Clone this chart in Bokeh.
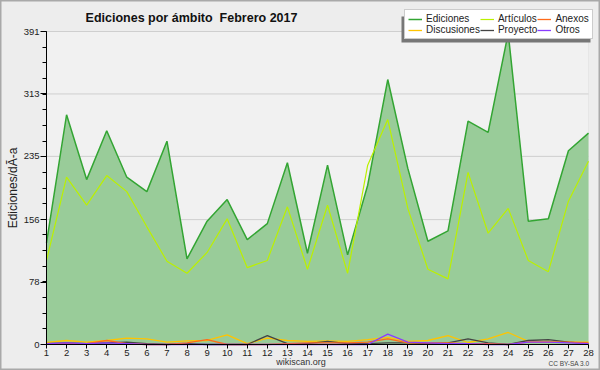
from bokeh.plotting import figure
from bokeh.models import (Range1d, FixedTicker, Label, Legend, LegendItem,
                          ColumnDataSource, BoxAnnotation)
from bokeh.embed import file_html
from bokeh.resources import INLINE

days = list(range(1, 29))
ediciones = [127, 287, 206, 267, 209, 191, 254, 107, 154, 181, 131, 151, 227, 114,
             224, 112, 199, 331, 220, 129, 142, 279, 265, 389, 154, 157, 242, 264]
articulos = [105, 209, 174, 211, 191, 147, 104, 89, 115, 157, 96, 105, 172, 94,
             174, 89, 224, 281, 170, 94, 82, 215, 139, 170, 105, 91, 179, 229]
discusiones = [2.5, 5, 3, 5, 8, 7, 3, 4.5, 5, 12, 1, 8, 5, 4,
               4.5, 4, 6, 9, 4, 5, 11, 2.5, 7, 15, 4, 4, 3, 3]
proyecto = [1, 2, 1, 2, 3, 1, 0, 1, 0, 0, 0, 11, 1, 1,
            4, 1, 1, 2, 2, 1, 2, 7, 2, 0, 5, 6, 3, 1]
anexos = [1, 1, 1, 5, 1, 0, 0, 2, 6, 0, 0, 0, 1, 2,
          2, 2, 3, 7, 2, 2, 2, 1, 1, 0, 3, 3, 3, 2]
otros = [1, 2, 1, 2, 1, 0, 0, 0, 0, 0, 0, 0, 0, 0,
         0, 0, 0, 13, 3, 2, 1, 1, 0, 0, 3, 3, 2, 1]
y_ticks = [0, 78, 156, 235, 313, 391]
y_max = 391

# layout (pixels)
W, H = 600, 370
LEFT_PX, RIGHT_PX = 46, 588
TOP_PX, BOT_PX = 31, 344
pxd = (RIGHT_PX - LEFT_PX) / (days[-1] - days[0])
pyu = (BOT_PX - TOP_PX) / y_max


def X(px):
    return days[0] + (px - LEFT_PX) / pxd


def Y(py):
    return (BOT_PX - py) / pyu


src = ColumnDataSource(dict(day=days, ed=ediciones, art=articulos, dis=discusiones,
                            pro=proyecto, anx=anexos, otr=otros,
                            zero=[0] * len(days)))

p = figure(width=W, height=H, output_backend="svg", toolbar_location=None, title=None,
           x_range=Range1d(X(0), X(W)), y_range=Range1d(Y(H), Y(0)),
           min_border=0)
p.background_fill_color = "#ededed"
p.border_fill_color = "#ededed"
p.outline_line_color = "#a9a9a9"
p.outline_line_width = 2

p.add_layout(BoxAnnotation(left=days[0], right=days[-1], bottom=0, top=y_max,
                           fill_color="#f1f1f1", fill_alpha=1,
                           line_color="#d2d2d2", line_width=1, level="underlay"))

# grid lines, only across the plotting area
p.segment(x0=[days[0]] * len(y_ticks), x1=[days[-1]] * len(y_ticks),
          y0=y_ticks, y1=y_ticks, line_color="#cfcfcf", line_width=1)

area = p.varea(x="day", y1="zero", y2="ed", source=src, fill_color="#99cc99")
r_ed = p.line("day", "ed", source=src, line_color="#33a533", line_width=1.5)
r_art = p.line("day", "art", source=src, line_color="#bbf000", line_width=1.2)
r_dis = p.line("day", "dis", source=src, line_color="#ffc400", line_width=1.3)
r_pro = p.line("day", "pro", source=src, line_color="#444444", line_width=1.3)
r_anx = p.line("day", "anx", source=src, line_color="#ff6a1a", line_width=1.3)
r_otr = p.line("day", "otr", source=src, line_color="#8a3cff", line_width=1.3)

# axes drawn at fixed positions inside the frame
p.xgrid.grid_line_color = None
p.ygrid.grid_line_color = None

xa = p.xaxis[0]
xa.fixed_location = 0
xa.bounds = (days[0], days[-1])
xa.ticker = FixedTicker(ticks=days)
xa.major_label_text_font = "Liberation Sans"
xa.major_label_text_font_size = "9.5px"
xa.major_label_text_color = "#222222"
xa.major_tick_out = 4
xa.major_tick_in = 0
xa.minor_tick_line_color = None
xa.major_label_standoff = 1
xa.axis_line_color = "black"
xa.major_tick_line_color = "black"

ya = p.yaxis[0]
ya.fixed_location = days[0]
ya.bounds = (0, y_max)
minor = [i * y_max / 20 for i in range(21)]
ya.ticker = FixedTicker(ticks=y_ticks, minor_ticks=minor)
ya.major_label_text_font = "Liberation Sans"
ya.major_label_text_font_size = "9.5px"
ya.major_label_text_color = "#222222"
ya.major_tick_out = 6
ya.major_tick_in = 0
ya.minor_tick_out = 4
ya.minor_tick_in = 0
ya.major_label_standoff = 1
ya.axis_label = "Ediciones/dÃ-a"
ya.axis_label_text_font = "Liberation Sans"
ya.axis_label_text_font_style = "normal"
ya.axis_label_text_font_size = "12px"
ya.axis_label_text_color = "#222222"
ya.axis_label_standoff = 1

# title and footers
p.add_layout(Label(x=X(191), y=Y(17), text="Ediciones por ámbito\u00a0 Febrero 2017",
                   text_font="Liberation Sans", text_font_style="bold",
                   text_font_size="12.5px", text_align="center", text_baseline="middle",
                   text_color="#111111"))
p.add_layout(Label(x=X(300.5), y=Y(361), text="wikiscan.org", text_font="Liberation Sans",
                   text_font_size="9px", text_align="center", text_baseline="middle",
                   text_color="#333333"))
p.add_layout(Label(x=X(589), y=Y(363), text="CC BY-SA 3.0", text_font="Liberation Sans",
                   text_font_size="6.5px", text_align="right", text_baseline="middle",
                   text_color="#444444"))

# legend with shadow
p.add_layout(BoxAnnotation(left=X(401), right=X(590), top=Y(16), bottom=Y(42),
                           fill_color="#777777", fill_alpha=1, line_color=None))
legend = Legend(items=[
    LegendItem(label="Ediciones", renderers=[r_ed]),
    LegendItem(label="Discusiones", renderers=[r_dis]),
    LegendItem(label="Artículos", renderers=[r_art]),
    LegendItem(label="Proyecto", renderers=[r_pro]),
    LegendItem(label="Anexos", renderers=[r_anx]),
    LegendItem(label="Otros", renderers=[r_otr]),
], location=(404, H - 39), nrows=2, orientation="vertical")
legend.background_fill_color = "white"
legend.background_fill_alpha = 1
legend.border_line_color = "#999999"
legend.label_text_font = "Liberation Sans"
legend.label_text_font_size = "10px"
legend.label_height = 10
legend.glyph_height = 10
legend.glyph_width = 14
legend.label_standoff = 4
legend.spacing = 0
legend.padding = 3
legend.margin = 0
legend.label_text_color = "#222222"
p.add_layout(legend, "center")

open("out.html", "w").write(file_html(p, INLINE))
